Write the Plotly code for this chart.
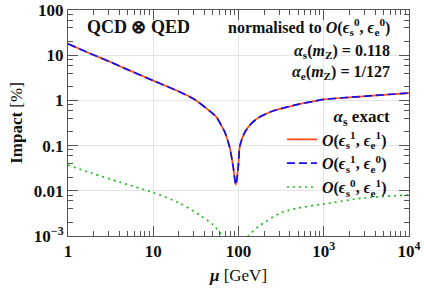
import plotly.graph_objects as go

# ---- data ----
mu_main = [1, 2, 3.2, 5, 10, 20, 30, 46, 55, 66, 69, 79, 87, 93, 99, 104, 119, 142,
           170, 244, 350, 500, 750, 1000, 2000, 5000, 10000]
impact_s1e1 = [17.8, 10.1, 7.0, 4.8, 2.74, 1.57, 1.07, 0.58, 0.43, 0.235, 0.2, 0.09,
               0.032, 0.0135, 0.032, 0.1, 0.2, 0.31, 0.41, 0.57, 0.69, 0.82, 0.95,
               1.05, 1.17, 1.33, 1.45]
impact_s1e0 = [17.8, 10.1, 7.0, 4.8, 2.74, 1.57, 1.07, 0.58, 0.43, 0.235, 0.2, 0.09,
               0.032, 0.0135, 0.032, 0.1, 0.2, 0.31, 0.41, 0.57, 0.69, 0.82, 0.95,
               1.05, 1.17, 1.33, 1.45]

mu_qed = [1, 1.9, 4.07, 10, 20.6, 35, 50, 64.5, 75, 110, 130, 170, 195, 305, 480,
          1000, 2900, 10000]
impact_s0e1 = [0.037, 0.0245, 0.0155, 0.0091, 0.0053, 0.0029, 0.0018, 0.001, 0.0005,
               0.0005, 0.001, 0.0016, 0.0019, 0.0032, 0.0041, 0.0051, 0.0069, 0.0081]

x_tickvals = [1, 10, 100, 1000, 10000]
x_ticktext = ["1", "10", "100", "10<sup>3</sup>", "10<sup>4</sup>"]
y_tickvals = [0.001, 0.01, 0.1, 1, 10, 100]
y_ticktext = ["10<sup>−3</sup>", "0.01", "0.1", "1", "10", "100"]

legend_names = [
    "<b><i>O</i>(<i>ϵ</i><sub>s</sub><sup>1</sup>, <i>ϵ</i><sub>e</sub><sup>1</sup>)</b>",
    "<b><i>O</i>(<i>ϵ</i><sub>s</sub><sup>1</sup>, <i>ϵ</i><sub>e</sub><sup>0</sup>)</b>",
    "<b><i>O</i>(<i>ϵ</i><sub>s</sub><sup>0</sup>, <i>ϵ</i><sub>e</sub><sup>1</sup>)</b>",
]

FONT = "Liberation Serif"
AX = "#555555"

x_minor = [m * 10 ** e for e in range(0, 4) for m in range(2, 10)]
y_minor = [m * 10.0 ** e for e in range(-3, 2) for m in (2, 4, 6, 8)]

fig = go.Figure()
fig.add_trace(go.Scatter(x=mu_main, y=impact_s1e1, mode="lines", name=legend_names[0],
                         line=dict(color="#ff4a12", width=1.7, shape="spline", smoothing=0.7)))
fig.add_trace(go.Scatter(x=mu_main, y=impact_s1e0, mode="lines", name=legend_names[1],
                         line=dict(color="#1010f0", width=1.7, dash="8px,4px", shape="spline", smoothing=0.7)))
fig.add_trace(go.Scatter(x=mu_qed, y=impact_s0e1, mode="lines", name=legend_names[2],
                         line=dict(color="#22b822", width=1.7, dash="2px,4px", shape="spline", smoothing=0.7)))

axis_common = dict(
    type="log", showline=True, linecolor=AX, linewidth=1, mirror="allticks",
    ticks="inside", ticklen=10, tickcolor=AX, tickwidth=1,
    showgrid=True, gridcolor="#e4e4e4", gridwidth=1, zeroline=False,
    ticklabeloverflow="allow", automargin=False,
    tickfont=dict(family=FONT, size=17, color="#111111", weight="bold"),
)

fig.update_xaxes(**axis_common, range=[0, 4], tickmode="array", tickvals=x_tickvals,
                 ticktext=x_ticktext,
                 minor=dict(tickmode="array", tickvals=x_minor, ticks="inside", ticklen=5,
                            tickcolor=AX, showgrid=False),
                 title=dict(text="<b><i>μ</i></b> [GeV]", font=dict(family=FONT, size=17, color="#111111"),
                            standoff=8))
fig.update_yaxes(**axis_common, range=[-3, 2], tickmode="array", tickvals=y_tickvals,
                 ticktext=y_ticktext,
                 minor=dict(tickmode="array", tickvals=y_minor, ticks="inside", ticklen=5,
                            tickcolor=AX, showgrid=False),
                 title=dict(text="<b>Impact</b> [%]", font=dict(family=FONT, size=17, color="#111111"),
                            standoff=6))

tfont = dict(family=FONT, size=16, color="#111111")
fig.add_annotation(xref="paper", yref="paper", x=0.05, y=0.925, xanchor="left", yanchor="middle",
                   text="<b>QCD ⊗ QED</b>", showarrow=False, font=dict(family=FONT, size=18, color="#111111"))
fig.add_annotation(xref="paper", yref="paper", x=0.95, y=0.925, xanchor="right", yanchor="middle",
                   text="<b>normalised to <i>O</i>(<i>ϵ</i><sub>s</sub><sup>0</sup>, <i>ϵ</i><sub>e</sub><sup>0</sup>)</b>",
                   showarrow=False, font=tfont)
fig.add_annotation(xref="paper", yref="paper", x=0.95, y=0.818, xanchor="right", yanchor="middle",
                   text="<b><i>α</i><sub>s</sub>(<i>m</i><sub>Z</sub>) = 0.118</b>", showarrow=False, font=tfont)
fig.add_annotation(xref="paper", yref="paper", x=0.95, y=0.722, xanchor="right", yanchor="middle",
                   text="<b><i>α</i><sub>e</sub>(<i>m</i><sub>Z</sub>) = 1/127</b>", showarrow=False, font=tfont)

fig.update_layout(
    width=424, height=298,
    margin=dict(l=68, r=15, t=10, b=62, autoexpand=False),
    paper_bgcolor="white", plot_bgcolor="white",
    font=dict(family=FONT, size=16, color="#111111"),
    showlegend=True,
    legend=dict(x=0.95, y=0.60, xanchor="right", yanchor="top", bgcolor="rgba(0,0,0,0)",
                font=dict(family=FONT, size=16, color="#111111"),
                title=dict(text="<b><i>α</i><sub>s</sub> exact</b>", side="top right",
                           font=dict(family=FONT, size=17, color="#111111")),
                tracegroupgap=0, itemwidth=30),
)

# remove the browser's default 8px body margin so the figure fills the window exactly
fig.write_html("out.html", config={"displayModeBar": False},
               post_script="document.body.style.margin='0px';")
